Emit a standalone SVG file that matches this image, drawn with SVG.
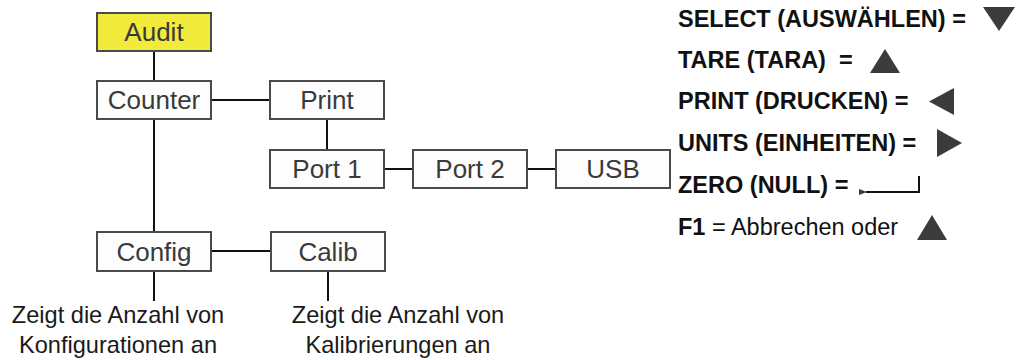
<svg xmlns="http://www.w3.org/2000/svg" width="1018" height="360" viewBox="0 0 1018 360">
<defs>
<style>
.box{fill:#fdfdfd;stroke:#4a4a4a;stroke-width:2}
.hl{fill:#f2eb3c}
.lbl{font-family:"Liberation Sans",Arial,sans-serif;font-size:26px;fill:#3a3a3a;text-anchor:middle}
.cap{font-family:"Liberation Sans",Arial,sans-serif;font-size:23.6px;fill:#1a1a1a;text-anchor:middle}
.key{font-family:"Liberation Sans",Arial,sans-serif;font-size:23.5px;fill:#111;font-weight:bold;white-space:pre}
.reg{font-weight:normal}
.tri{fill:#3d3a3a}
.ln{stroke:#111;stroke-width:2;fill:none}
</style>
<marker id="ah" markerWidth="8" markerHeight="6" refX="1" refY="3" orient="auto" markerUnits="userSpaceOnUse">
<path d="M8,0 L0,3 L8,6 z" fill="#3d3a3a"/>
</marker>
</defs>
<g id="connectors">
<line class="ln" x1="154" y1="51" x2="154" y2="81"/>
<line class="ln" x1="154" y1="119" x2="154" y2="232"/>
<line class="ln" x1="211" y1="100" x2="270" y2="100"/>
<line class="ln" x1="327" y1="119" x2="327" y2="150"/>
<line class="ln" x1="384" y1="169" x2="413" y2="169"/>
<line class="ln" x1="527" y1="169" x2="556" y2="169"/>
<line class="ln" x1="211" y1="251" x2="271" y2="251"/>
<line class="ln" x1="154" y1="271" x2="154" y2="301"/>
<line class="ln" x1="328" y1="271" x2="328" y2="301"/>
</g>
<g id="audit"><rect class="box hl" x="97" y="13" width="114" height="38"/><text class="lbl" x="154" y="41">Audit</text></g>
<g id="counter"><rect class="box" x="97" y="81" width="114" height="38"/><text class="lbl" x="154" y="109">Counter</text></g>
<g id="print"><rect class="box" x="270" y="81" width="114" height="38"/><text class="lbl" x="327" y="109">Print</text></g>
<g id="port1"><rect class="box" x="270" y="150" width="114" height="38"/><text class="lbl" x="327" y="178">Port 1</text></g>
<g id="port2"><rect class="box" x="413" y="150" width="114" height="38"/><text class="lbl" x="470" y="178">Port 2</text></g>
<g id="usb"><rect class="box" x="556" y="150" width="114" height="38"/><text class="lbl" x="613" y="178">USB</text></g>
<g id="config"><rect class="box" x="97" y="232" width="114" height="39"/><text class="lbl" x="154" y="261">Config</text></g>
<g id="calib"><rect class="box" x="271" y="232" width="114" height="39"/><text class="lbl" x="328" y="261">Calib</text></g>
<g id="caption-config"><text class="cap" x="118" y="323">Zeigt die Anzahl von</text><text class="cap" x="118" y="353">Konfigurationen an</text></g>
<g id="caption-calib"><text class="cap" x="398" y="323">Zeigt die Anzahl von</text><text class="cap" x="398" y="353">Kalibrierungen an</text></g>
<g id="legend">
<text class="key" x="678" y="27">SELECT (AUSWÄHLEN) =</text>
<polygon class="tri" points="983,7 1015,7 999,31"/>
<text class="key" x="678" y="68">TARE (TARA)  =</text>
<polygon class="tri" points="870,73 900,73 885,49"/>
<text class="key" x="678" y="109">PRINT (DRUCKEN) =</text>
<polygon class="tri" points="954,88 954,115 929,101.5"/>
<text class="key" x="678" y="151">UNITS (EINHEITEN) =</text>
<polygon class="tri" points="937,129 937,157 962,143"/>
<text class="key" x="678" y="193">ZERO (NULL) =</text>
<path class="ln" d="M919,176 V192 H866" stroke-width="1.5" stroke="#3d3a3a" marker-end="url(#ah)"/>
<text class="key" x="678" y="235">F1<tspan class="reg"> = Abbrechen oder</tspan></text>
<polygon class="tri" points="917,240 947,240 932,215"/>
</g>
</svg>
